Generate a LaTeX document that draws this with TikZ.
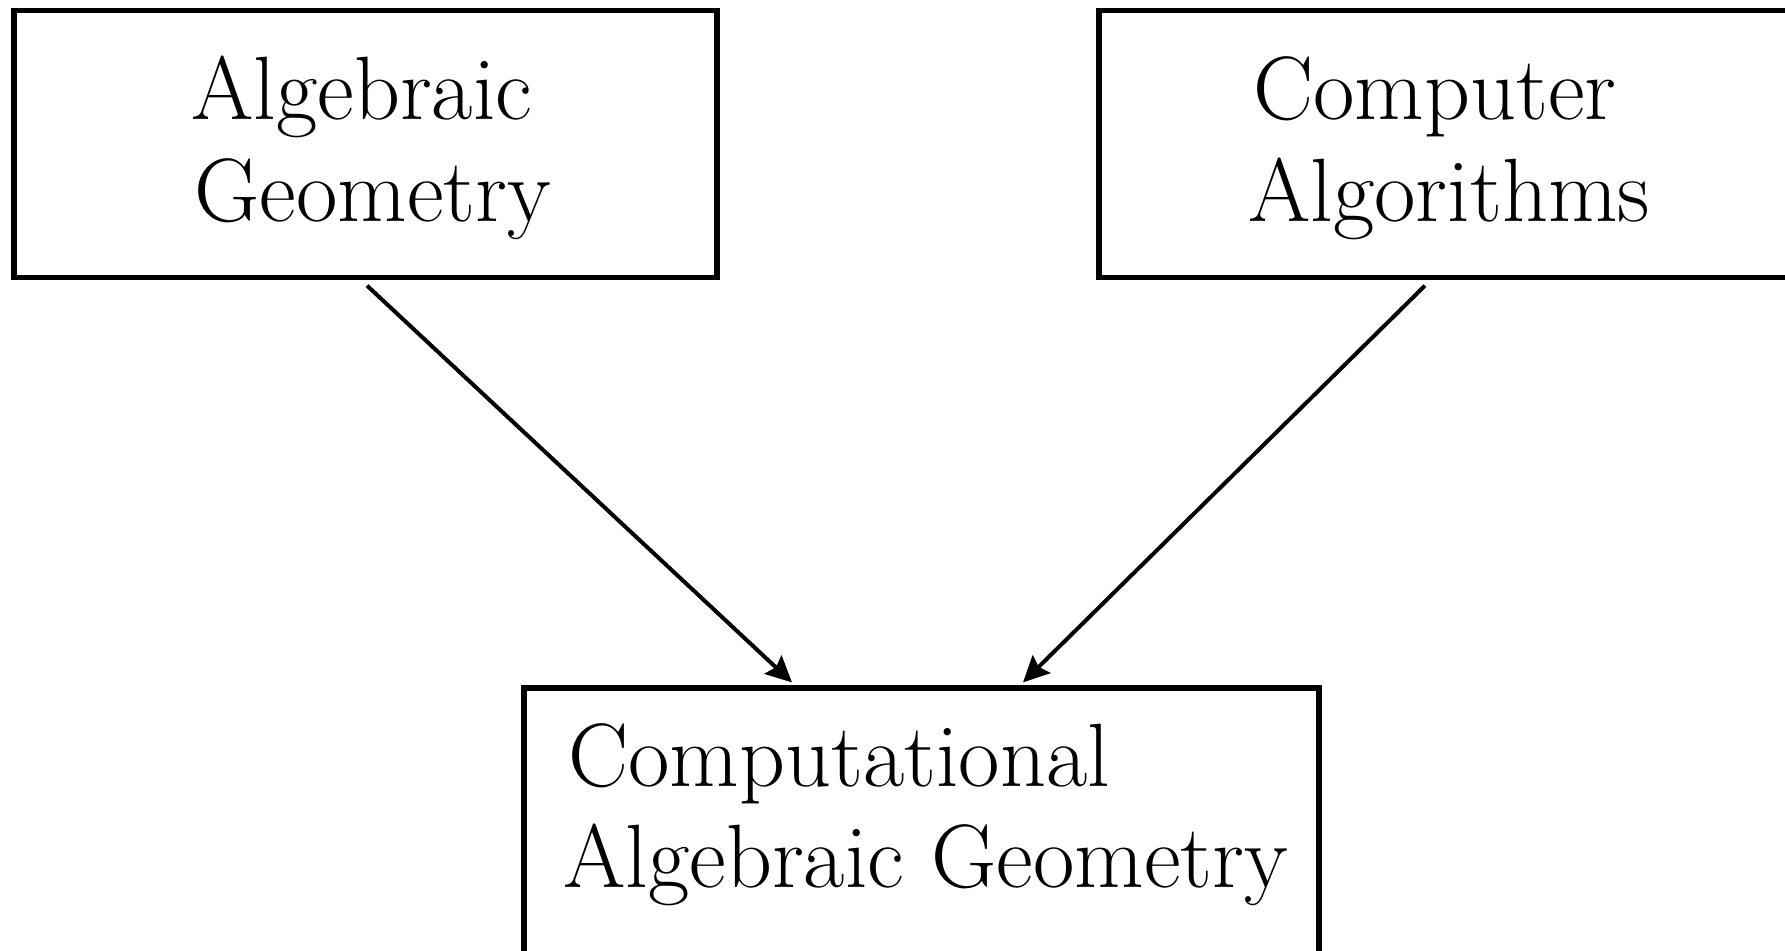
\documentclass[tikz,border=0pt]{standalone}
\usetikzlibrary{arrows.meta}
\begin{document}
\begin{tikzpicture}[x=0.5pt,y=-0.5pt,
  box/.style={draw=black,line width=2.6pt,inner sep=0pt},
  lbl/.style={inner sep=0pt,anchor=base west,font=\fontsize{45}{54}\selectfont},
  arr/.style={line width=2pt,-{Stealth[length=13pt,width=12.5pt,inset=2pt]}}]
\useasboundingbox (0,0) rectangle (1785,951);
\clip (0,0) rectangle (1785,951);
\node[box,minimum width=351.5pt,minimum height=133.5pt] (b1) at (365.5,144) {};
\node[box,minimum width=350.5pt,minimum height=133.5pt] (b2) at (1449.5,144) {};
\node[box,minimum width=397.5pt,minimum height=156pt] (b3) at (921.5,844) {};
\node[lbl] (t1a) at (191,120) {Algebraic};
\node[lbl] (t1b) at (194,222) {Geometry};
\node[lbl] (t2a) at (1253,120) {Computer};
\node[lbl] (t2b) at (1248,222) {Algorithms};
\node[lbl] (t3a) at (568,787) {Computational};
\node[lbl] (t3b) at (563,888) {Algebraic Geometry};
\draw[arr] ([xshift=0.75pt,yshift=-2.75pt]b1.south) -- ([xshift=-64.75pt,yshift=1.5pt]b3.north);
\draw[arr] ([xshift=-12.25pt,yshift=-2.75pt]b2.south) -- ([xshift=50.75pt,yshift=1.5pt]b3.north);
\end{tikzpicture}
\end{document}
